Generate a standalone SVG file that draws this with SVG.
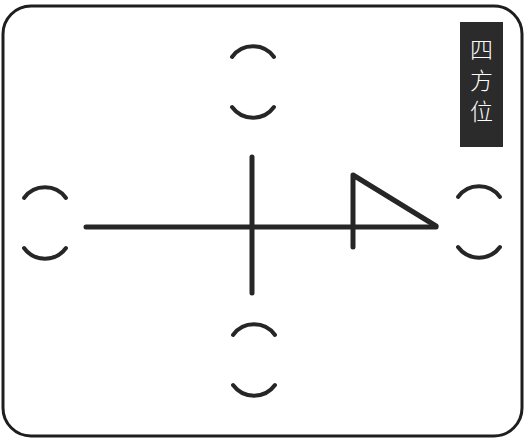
<svg xmlns="http://www.w3.org/2000/svg" width="531" height="440" viewBox="0 0 531 440">
<style>
.ln{stroke:#262626;stroke-width:5;stroke-linecap:round;stroke-linejoin:round;fill:none}
.arc{stroke:#262626;stroke-width:4;stroke-linecap:round;fill:none}
.lbl{font-family:"Noto Sans CJK SC","Noto Sans CJK JP",sans-serif;font-size:23px;font-weight:300;fill:#ffffff;writing-mode:vertical-rl;letter-spacing:8px}
</style>
<defs>
<g id="pair">
<path class="arc" d="M-21,11 A26,26 0 0 1 21,11"/>
<path class="arc" d="M-21,61 A26,26 0 0 0 21,61"/>
</g>
</defs>
<rect x="3" y="6" width="519" height="430" rx="28" ry="28" fill="#ffffff" stroke="#1e1e1e" stroke-width="3"/>
<g id="label">
<rect x="460" y="22" width="43" height="125" fill="#2b2b2b"/>
<text class="lbl" x="481.5" y="38">四方位</text>
</g>
<g id="node-top"><use href="#pair" x="253" y="46"/></g>
<g id="node-left"><use href="#pair" x="45" y="187"/></g>
<g id="node-right"><use href="#pair" x="479" y="186"/></g>
<g id="node-bottom"><use href="#pair" x="254" y="324"/></g>
<g id="connectors">
<path class="ln" d="M86,227 L436,227"/>
<path class="ln" d="M252,157 L252,293"/>
<path class="ln" d="M353,247 L353,175 L436,226"/>
</g>
</svg>
